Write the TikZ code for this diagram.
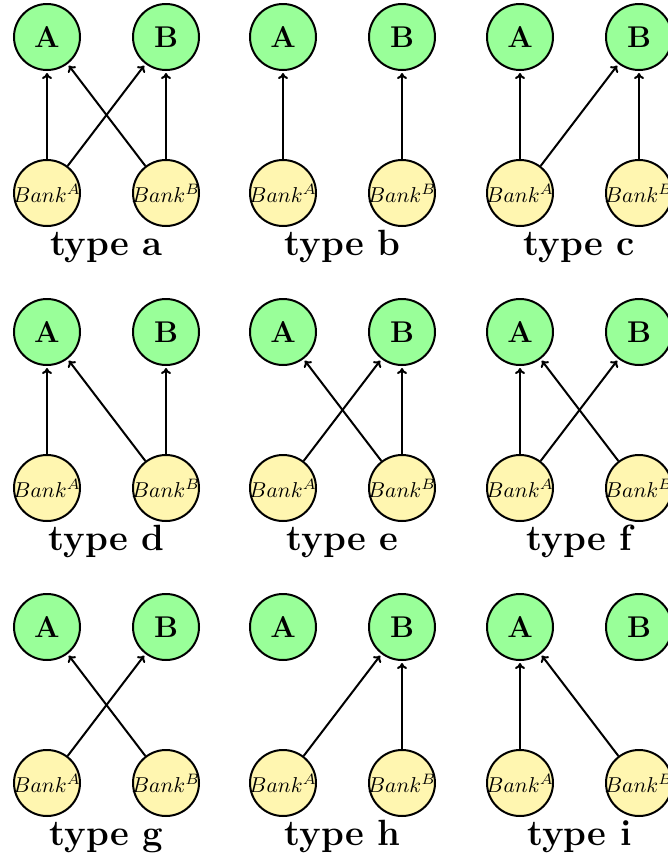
\RequirePackage{fix-cm}
\documentclass[tikz,border=0pt]{standalone}
\usepackage{graphicx}
\usetikzlibrary{arrows.meta}
\definecolor{nodegreen}{RGB}{153,255,153}
\definecolor{bankyellow}{RGB}{255,246,176}
\tikzset{
  agent/.style={circle,draw,line width=2pt,fill=nodegreen,minimum size=66pt,inner sep=0pt,font=\fontsize{30}{36}\selectfont\bfseries},
  bank/.style={circle,draw,line width=2pt,fill=bankyellow,minimum size=66pt,inner sep=0pt},
  link/.style={line width=2pt,-{To[length=6pt,width=10pt]},shorten >=2pt},
  typelabel/.style={anchor=base,inner sep=0pt,font=\fontsize{36.5}{44}\selectfont\bfseries}
}
\newcommand{\banklabel}[1]{\makebox[0pt]{\scalebox{2.15}{$Bank^{#1}$}}}
\begin{document}
\begin{tikzpicture}[x=1pt,y=-1pt]
\useasboundingbox (0,0) rectangle (668,857);
\foreach \t/\c/\r/\edges in {a/0/0/{BA/A,BA/B,BB/A,BB/B}, b/1/0/{BA/A,BB/B}, c/2/0/{BA/A,BA/B,BB/B}, d/0/1/{BA/A,BB/A,BB/B}, e/1/1/{BA/B,BB/A,BB/B}, f/2/1/{BA/A,BA/B,BB/A}, g/0/2/{BA/B,BB/A}, h/1/2/{BA/B,BB/B}, i/2/2/{BA/A,BB/A}}{
  \pgfmathsetmacro\xa{int(47+236.5*\c)}
  \pgfmathsetmacro\xb{\xa+119}
  \pgfmathsetmacro\ya{37+295*\r}
  \pgfmathsetmacro\yb{\ya+156}
  \pgfmathsetmacro\xm{(\xa+\xb)/2}
  \pgfmathsetmacro\yl{\ya+218}
  \node[agent] (A-\t) at (\xa,\ya) {A};
  \node[agent] (B-\t) at (\xb,\ya) {B};
  \node[bank] (BA-\t) at (\xa,\yb) {\banklabel{A}};
  \node[bank] (BB-\t) at (\xb,\yb) {\banklabel{B}};
  \node[typelabel] (L-\t) at (\xm,\yl) {type \t};
  \foreach \s/\d in \edges {\draw[link] (\s-\t) -- (\d-\t);}
}
\end{tikzpicture}
\end{document}
